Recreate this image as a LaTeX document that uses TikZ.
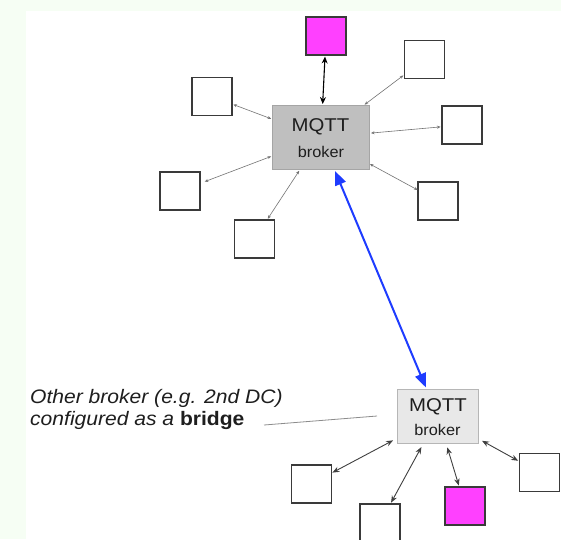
\documentclass[tikz,border=0pt]{standalone}
\usepackage{fontspec}
\setmainfont{Liberation Sans}
\usetikzlibrary{arrows.meta}

\definecolor{pagebg}{RGB}{246,254,244}
\definecolor{hotbox}{RGB}{255,64,255}
\definecolor{boxedge}{RGB}{58,58,58}
\definecolor{brokerfillA}{RGB}{191,191,191}
\definecolor{brokeredgeA}{RGB}{165,165,165}
\definecolor{brokerfillB}{RGB}{232,232,232}
\definecolor{brokeredgeB}{RGB}{182,182,182}
\definecolor{bridgeblue}{RGB}{30,60,255}
\definecolor{inktext}{RGB}{30,30,30}

\tikzset{
  client/.style={draw=boxedge, line width=1.6pt, fill=white,
    minimum width=40pt, minimum height=38pt, inner sep=0pt, outer sep=0pt},
  hotclient/.style={client, fill=hotbox},
  brokerbox/.style={inner sep=0pt, outer sep=0pt, line width=1pt},
  mainbroker/.style={brokerbox, fill=brokerfillA, draw=brokeredgeA,
    minimum width=97pt, minimum height=64pt},
  bridgebroker/.style={brokerbox, fill=brokerfillB, draw=brokeredgeB,
    minimum width=81pt, minimum height=54pt},
  brokertitle/.style={inner sep=0pt, anchor=base, text=inktext,
    font=\fontsize{18.5}{20}\selectfont},
  brokersub/.style={inner sep=0pt, anchor=base, text=inktext,
    font=\fontsize{15.5}{18}\selectfont},
  caption/.style={inner sep=0pt, anchor=base west, text=inktext,
    font=\fontsize{19.5}{22}\selectfont\itshape},
  thinlink/.style={draw=black!55, line width=0.6pt,
    >={Stealth[length=3.5pt,width=3pt]}, <->,
    shorten <=1.5pt, shorten >=1.5pt},
  hotlink/.style={draw=black, line width=1.1pt,
    >={Stealth[length=7pt,width=6pt]}, <->,
    shorten <=1.5pt, shorten >=1.5pt},
  lowlink/.style={draw=black!75, line width=0.9pt,
    >={Stealth[length=7pt,width=5.5pt]}, <->,
    shorten <=4pt, shorten >=1.5pt},
  bridgelink/.style={draw=bridgeblue, line width=2pt,
    >={Triangle[length=14pt,width=11pt]}, <->,
    shorten <=1.7pt, shorten >=2.3pt},
  leader/.style={draw=black!45, line width=0.8pt}
}

\begin{document}
\begin{tikzpicture}[x=1pt,y=-1pt]
  % page frame
  \useasboundingbox (0,0) rectangle (561,539);
  \fill[pagebg] (0,0) rectangle (561,539);
  \fill[white] (26,11) rectangle (561,539);

  % central broker and its clients
  \node[mainbroker] (b1) at (321,137.5) {};
  \node[brokertitle] (b1t) at (320.5,131.7) {\scalebox{1.1}[1]{MQTT}};
  \node[brokersub] (b1s) at (321,157.7) {\scalebox{1.05}[1]{broker}};

  \node[hotclient] (h1) at (326,36) {};
  \node[client] (c1) at (424.5,59.5) {};
  \node[client] (c2) at (212,96.5) {};
  \node[client] (c3) at (462,125) {};
  \node[client] (c4) at (180,191) {};
  \node[client] (c5) at (254.5,239) {};
  \node[client] (c6) at (438,201) {};

  \draw[hotlink] (b1) -- (h1);
  \draw[thinlink] (b1) -- (c1);
  \draw[thinlink] (b1) -- (c2);
  \draw[thinlink] (b1) -- (c3);
  \draw[thinlink, shorten >=5pt] (b1) -- (c4);
  \draw[thinlink] (b1) -- (c5);
  \draw[thinlink, shorten <=0.5pt, shorten >=0.5pt] (b1) -- (c6);

  % bridged broker and its clients
  \node[bridgebroker] (b2) at (438,416.5) {};
  \node[brokertitle] (b2t) at (438,411.7) {\scalebox{1.1}[1]{MQTT}};
  \node[brokersub] (b2s) at (437.5,435) {\scalebox{1.05}[1]{broker}};

  \node[client] (d1) at (311.5,483.7) {};
  \node[client] (d2) at (380,523) {};
  \node[hotclient] (h2) at (465,506) {};
  \node[client] (d3) at (539.5,472.5) {};

  \draw[lowlink, shorten <=5pt, shorten >=1pt] (b2) -- (d1);
  \draw[lowlink] (b2) -- (d2);
  \draw[lowlink] (b2) -- (h2);
  \draw[lowlink] (b2) -- (d3);

  % bridge between the two brokers
  \draw[bridgelink] (b1) -- (b2);

  % caption with leader line
  \node[caption] (cap1) at (30,403.3) {\scalebox{1.08}[1]{Other broker (e.g. 2nd DC)}};
  \node[caption] (cap2) at (30,425.7) {\scalebox{1.08}[1]{configured as a \textbf{\upshape bridge}}};
  \coordinate (leadA) at (264,425);
  \coordinate (leadB) at (377,416);
  \draw[leader] (leadA) -- (leadB);
\end{tikzpicture}
\end{document}
